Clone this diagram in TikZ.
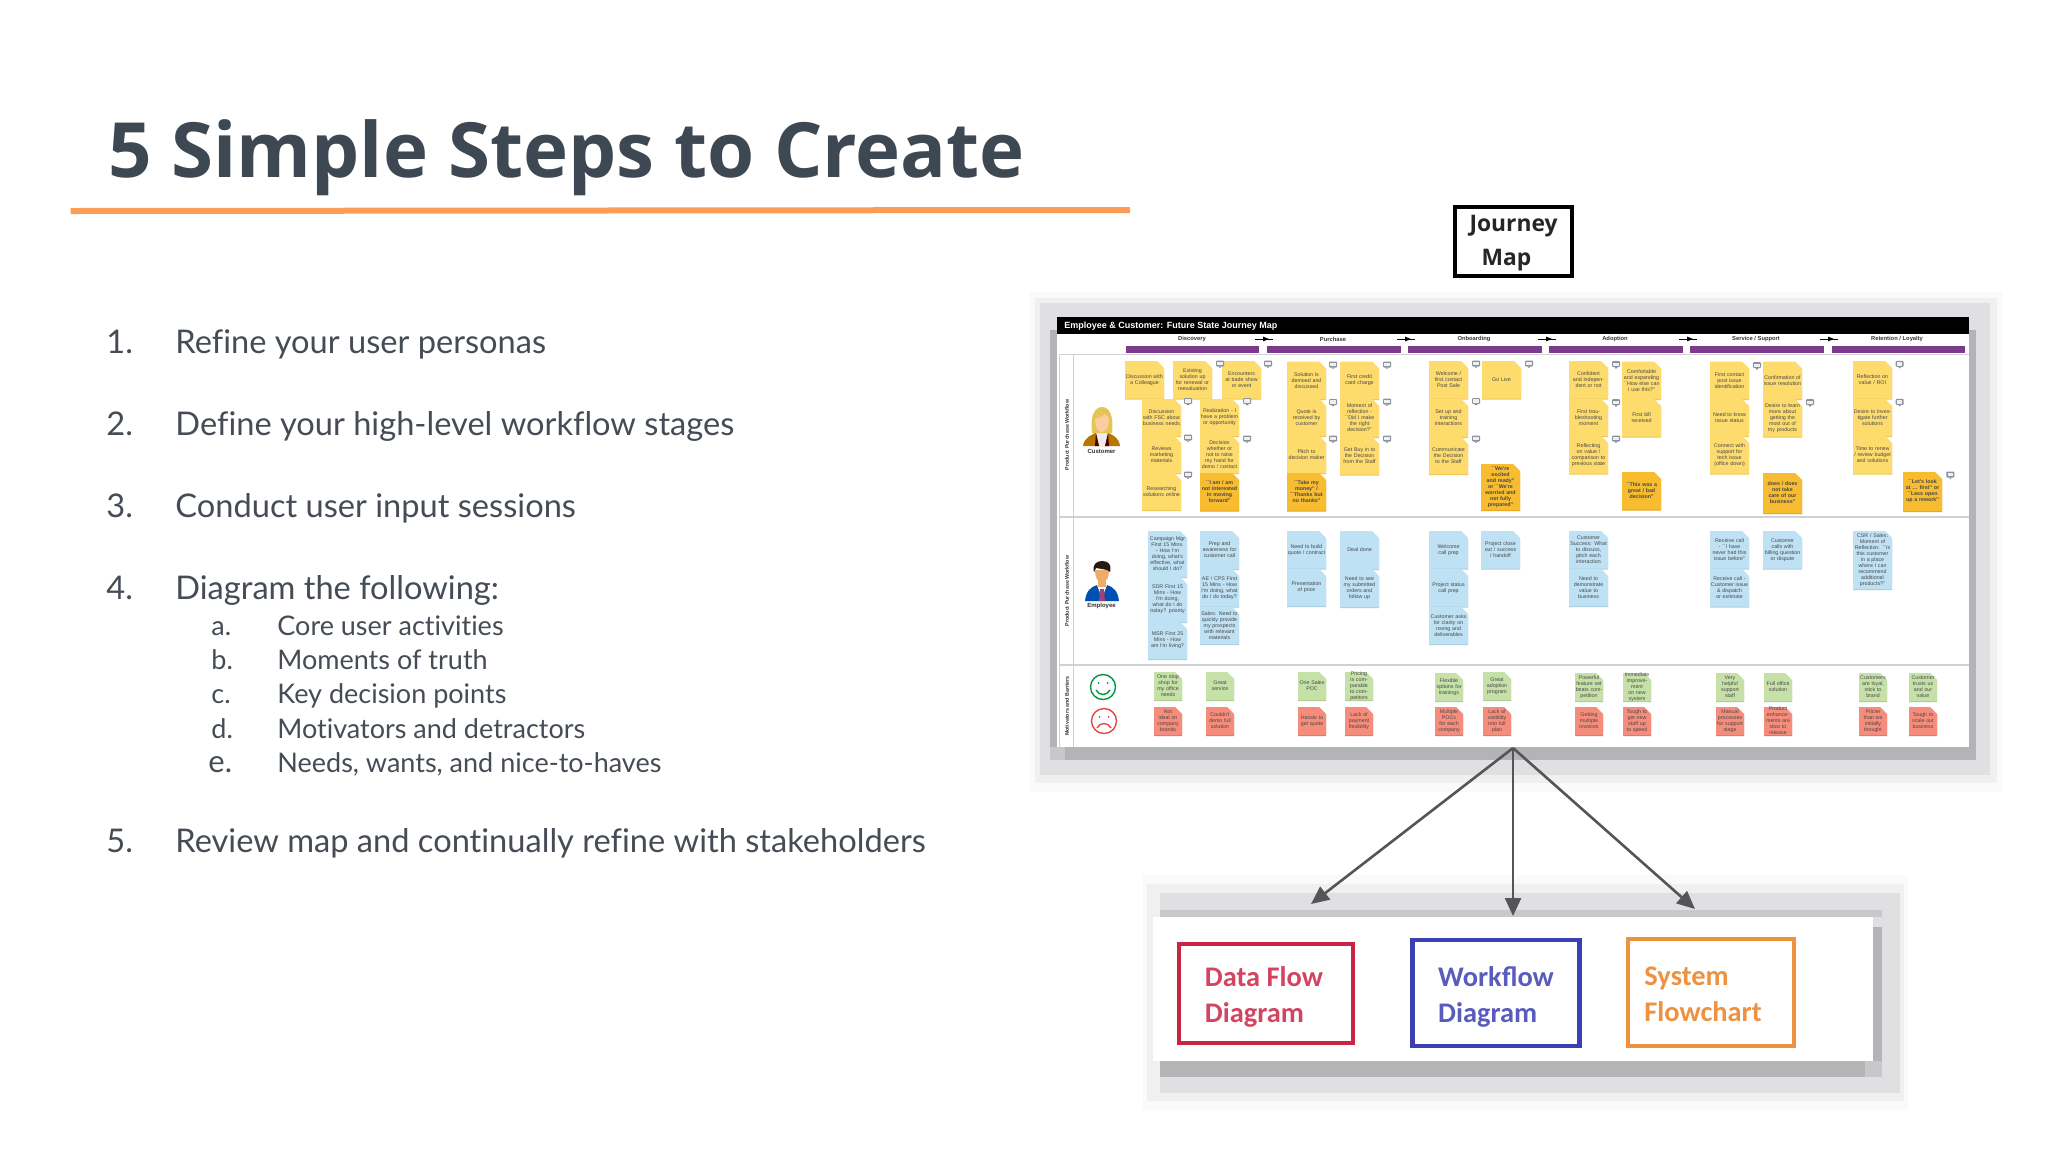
\documentclass[tikz,border=0pt]{standalone}
\usepackage{fontspec}
\setmainfont{Lato}[Ligatures=NoCommon]
\newfontfamily\notefont{Liberation Sans}
\newfontfamily\carl{Carlito}
\newfontfamily\jfont{Open Sans}
\usetikzlibrary{arrows.meta}
\definecolor{ink}{HTML}{3E4853}
\definecolor{body}{HTML}{454C55}
\definecolor{rule}{HTML}{FD9C57}
\definecolor{yel}{HTML}{FDDB6D}
\definecolor{yelS}{HTML}{EFC658}
\definecolor{dyl}{HTML}{F8BC30}
\definecolor{dylS}{HTML}{E5A41F}
\definecolor{blu}{HTML}{BFE1F4}
\definecolor{bluS}{HTML}{A9CDE2}
\definecolor{grn}{HTML}{C5E1A8}
\definecolor{grnS}{HTML}{AECB92}
\definecolor{rd}{HTML}{F68D7C}
\definecolor{rdS}{HTML}{DD7868}
\definecolor{purp}{HTML}{7B3A8C}
\definecolor{sh1}{HTML}{B4B4B7}
\definecolor{sh1b}{HTML}{C8C8CB}
\definecolor{sh2}{HTML}{E0E0E2}
\definecolor{sh3}{HTML}{FAFAFB}
\definecolor{sh4}{HTML}{F0F0F1}
\definecolor{cmt}{HTML}{8B929C}
\definecolor{arrowc}{HTML}{555558}
\definecolor{redb}{HTML}{CB2344}
\definecolor{blub}{HTML}{3B3FB2}
\definecolor{orab}{HTML}{EE9140}
\tikzset{
 listtxt/.style={anchor=base west,inner sep=0,text=body,font=\fontsize{16.3}{18}\selectfont},
 subtxt/.style={anchor=base west,inner sep=0,text=body,font=\fontsize{13.5}{15}\selectfont},
 stage/.style={inner sep=0,font=\notefont\bfseries\fontsize{2.9}{4}\selectfont,text=black!80},
 side/.style={inner sep=0,rotate=90,font=\notefont\bfseries\fontsize{2.65}{4}\selectfont,text=black!80},
 who/.style={inner sep=0,font=\notefont\bfseries\fontsize{3}{4}\selectfont,text=black!80},
 bigbox/.style={draw,line width=2.4pt,inner sep=0,font=\carl\bfseries\fontsize{14.2}{18}\selectfont},
 flow/.style={draw=arrowc,line width=1.3pt,-{Triangle[length=9pt,width=8pt]},fill=arrowc},
 stagearrow/.style={draw=black,line width=.4pt},
}
\newcount\ntc
\newcommand\nt[7]{% colour, x, y, w, h, bold?, text
 \global\advance\ntc by 1
 \fill[#1S] (#2,#3+1) -- (#2+#4-7,#3+1) -- (#2+#4,#3+8) -- (#2+#4,#3+#5+1) -- (#2,#3+#5+1) -- cycle;
 \fill[#1] (#2,#3) -- (#2+#4-7,#3) -- (#2+#4,#3+7) -- (#2+#4,#3+#5) -- (#2,#3+#5) -- cycle;
 \node[inner sep=0,text width=#4*0.48pt,align=center,text=black!72,
   font=\notefont#6\fontsize{2.65}{3}\selectfont] (note\the\ntc) at (#2+#4/2,#3+#5/2) {\hyphenpenalty=10000\relax\exhyphenpenalty=10000\relax #7};
}
\newcommand\cm[2]{%
 \fill[cmt,rounded corners=.5pt] (#1-4,#2-3.5) rectangle (#1+4,#2+2.5);
 \fill[white!85!cmt] (#1-2.6,#2-2.2) rectangle (#1+2.6,#2+1.2);
 \fill[cmt] (#1-1.5,#2+2.5) -- (#1+1.5,#2+2.5) -- (#1,#2+4.2) -- cycle;
}
\newcommand\yy[4]{\nt{yel}{#1}{#2}{39}{#3}{}{#4}}
\newcommand\dd[4]{\nt{dyl}{#1}{#2}{39}{#3}{\bfseries}{#4}}
\newcommand\bb[4]{\nt{blu}{#1}{#2}{39}{#3}{}{#4}}
\newcommand\twol[3]{\hspace*{#3}\raisebox{-2pt}[\height][\depth]{\begin{tabular}{@{}l@{}}#1\\#2\end{tabular}}}
\begin{document}
\begin{tikzpicture}[x=0.5pt,y=-0.5pt]
\useasboundingbox (0,0) rectangle (2048,1152);
\fill[white] (0,0) rectangle (2048,1152);

% ---------- title
\node[anchor=base west,inner sep=0,text=ink,font=\jfont\bfseries\fontsize{38.1}{44}\selectfont] (title) at (108,177) {5 Simple Steps to Create};
\fill[rule] (70.5,208) -- (1130,207) -- (1130,213) -- (70.5,214) -- cycle;

% ---------- list
\node[listtxt] (n1) at (106,353) {1.};
\node[listtxt] (t1) at (175,353) {Refine your user personas};
\node[listtxt] (n2) at (106,435) {2.};
\node[listtxt] (t2) at (175,435) {Define your high-level workflow stages};
\node[listtxt] (n3) at (106,517) {3.};
\node[listtxt] (t3) at (175,517) {Conduct user input sessions};
\node[listtxt] (n4) at (106,599) {4.};
\node[listtxt] (t4) at (175,599) {Diagram the following:};
\node[subtxt] (la) at (211,635) {a.};
\node[subtxt] (ta) at (277,635) {Core user activities};
\node[subtxt] (lb) at (211,669) {b.};
\node[subtxt] (tb) at (277,669) {Moments of truth};
\node[subtxt] (lc) at (211,703) {c.};
\node[subtxt] (tc) at (277,703) {Key decision points};
\node[subtxt] (ld) at (211,738) {d.};
\node[subtxt] (td) at (277,738) {Motivators and detractors};
\node[subtxt,font=\fontsize{15.5}{15}\selectfont] (le) at (208,772) {e.};
\node[subtxt] (te) at (277,772) {Needs, wants, and nice-to-haves};
\node[listtxt] (n5) at (106,852) {5.};
\node[listtxt] (t5) at (175,852) {Review map and continually refine with stakeholders};

% ---------- journey map label
\node[draw=black,line width=2pt,minimum width=58.5pt,minimum height=34.5pt,inner sep=0,
  font=\jfont\bfseries\fontsize{11.4}{17}\selectfont,text=black!85] (journey) at (1513.5,241.5)
  {\raisebox{-1.2pt}{\begin{tabular}{@{}c@{}}Journey\\Map\hspace*{7pt}\end{tabular}}};

% ---------- journey image shadows
\fill[sh3] (1030,292) rectangle (2002,792);
\fill[sh4] (1035,298) rectangle (1997,783);
\fill[sh2] (1040,303) rectangle (1990,775);
\fill[sh1] (1065,747) rectangle (1976,760);
\fill[sh1] (1050,330) rectangle (1057,747);
\fill[sh1] (1969,330) rectangle (1976,747);
\fill[sh1b] (1050,747) rectangle (1065,760);
\fill[white] (1057,317) rectangle (1969,747);
\fill[black] (1057,317) rectangle (1969,334);
\node[anchor=west,inner sep=0,text=white,font=\notefont\bfseries\fontsize{4.5}{5}\selectfont] (jtitle) at (1064,326) {Employee \& Customer: Future State Journey Map};

% grid
\draw[black!18,line width=.5pt] (1059,354) -- (1969,354);
\draw[black!18,line width=.6pt] (1059,517) -- (1969,517);
\draw[black!18,line width=.6pt] (1059,665) -- (1969,665);
\draw[black!18,line width=.5pt] (1059,354) -- (1059,747);
\draw[black!18,line width=.5pt] (1073,354) -- (1073,747);

% stages
\node[stage] (s1) at (1192,339) {Discovery};
\node[stage] (s2) at (1333,339) {Purchase};
\node[stage] (s3) at (1474,339) {Onboarding};
\node[stage] (s4) at (1615,339) {Adoption};
\node[stage] (s5) at (1756,339) {Service / Support};
\node[stage] (s6) at (1897,339) {Retention / Loyalty};
\foreach \a/\b in {1126/1259,1267/1401,1408/1542,1549/1683,1690/1824,1832/1965}
  \fill[purp] (\a,345.7) rectangle (\b,352.7);
\foreach \a in {1255,1397,1538,1679,1820}{
  \draw[stagearrow] (\a,339) -- (\a+18,339);
  \fill[black] (\a+8,336.6) -- (\a+14,339) -- (\a+8,341.4) -- cycle;
}
\node[side] (r1) at (1067,435) {Product Purchase Workflow};
\node[side] (r2) at (1067,591) {Product Purchase Workflow};
\node[side] (r3) at (1067,706) {Motivators and Barriers};

% customer
\fill[black!35!orange!80!yellow] (1083,446) .. controls (1084,437) and (1092,435) .. (1097,432) -- (1107,432) .. controls (1112,435) and (1119,437) .. (1120,446) -- cycle;
\fill[white!92!black] (1096,433) -- (1108,433) -- (1105,446) -- (1099,446) -- cycle;
\fill[black!70!red] (1096,433) -- (1099,446) -- (1095,446) -- cycle;
\fill[black!70!red] (1108,433) -- (1105,446) -- (1109,446) -- cycle;
\fill[yellow!45!brown!85!white] (1092,433) .. controls (1090,415) and (1095,407) .. (1102,407) .. controls (1109,407) and (1114,415) .. (1112,433) -- cycle;
\fill[orange!35!white!92!brown] (1102,432) .. controls (1097,432) and (1095,426) .. (1095,419) .. controls (1099,418) and (1103,416) .. (1105,414) .. controls (1107,416) and (1109,417) .. (1109,419) .. controls (1109,426) and (1107,432) .. (1102,432) -- cycle;
\node[who] (cust) at (1101.5,451) {Customer};

% employee
\fill[blue!55!cyan!70!black] (1085,601) .. controls (1086,592) and (1090,587) .. (1097,585) -- (1107,585) .. controls (1114,587) and (1118,592) .. (1119,601) -- cycle;
\fill[white] (1097,585) -- (1107,585) -- (1104,593) -- (1100,593) -- cycle;
\fill[magenta!60!black] (1100,589) -- (1104,589) -- (1105,601) -- (1099,601) -- cycle;
\fill[orange!60!brown!65!white] (1098,578) rectangle (1106,587);
\fill[orange!60!brown!65!white] (1102,582) .. controls (1097,582) and (1095,577) .. (1095,570) -- (1109,570) .. controls (1109,577) and (1107,582) .. (1102,582) -- cycle;
\fill[black!80!brown] (1094,572) .. controls (1092,565) and (1096,561) .. (1102,561) .. controls (1108,561) and (1112,564) .. (1110,572) .. controls (1108,569) and (1100,569) .. (1096,568) -- cycle;
\node[who] (emp) at (1101.5,606) {Employee};

% smileys
\draw[green!45!black!75!cyan,line width=.7pt] (1103,687) circle (12.5);
\fill[green!45!black!75!cyan] (1098.5,683) circle (1) (1107.5,683) circle (1);
\draw[green!45!black!75!cyan,line width=.7pt] (1096,690) .. controls (1099,696) and (1107,696) .. (1110,690);
\draw[red!60!pink!90!black,line width=.7pt] (1104,721) circle (12.5);
\fill[red!60!pink!90!black] (1099.5,717) circle (1) (1108.5,717) circle (1);
\draw[red!60!pink!90!black,line width=.7pt] (1097,728) .. controls (1100,722) and (1108,722) .. (1111,728);

% yellow notes
\yy{1125}{361}{37.5}{Discussion with a Colleague}
\yy{1173}{361}{37.5}{Existing solution up for renewal or reevaluation}
\yy{1222}{361}{37.5}{Encounters at trade show or event}
\yy{1142}{399}{37}{Discussion with FSC about business needs}
\yy{1200}{399}{37}{Realization - I have a problem or opportunity}
\yy{1142}{436}{37}{Reviews marketing materials}
\yy{1200}{436}{37}{Decision whether or not to raise my hand for demo / contact}
\yy{1142}{473}{37}{Researching solutions online}
\dd{1200}{473}{37.5}{``I am / am not interested in moving forward''}
\yy{1287}{361.5}{37.5}{Solution is demoed and discussed}
\yy{1287}{399}{37}{Quote is received by customer}
\yy{1287}{436}{37}{Pitch to decision maker}
\dd{1287}{473}{37.5}{``Take my money'' / ``Thanks but no thanks''}
\yy{1340}{361.5}{37.5}{First credit card charge}
\yy{1340}{399}{38}{Moment of reflection - ``Did I make the right decision?''}
\yy{1340}{437}{37.5}{Get Buy in to the Decision from the Staff}
\yy{1429}{361}{37.5}{Welcome / first contact Post Sale}
\yy{1429}{399}{38}{Set up and training interactions}
\yy{1429}{437}{37}{Communicate the Decision to the Staff}
\yy{1482}{361}{37.5}{Go Live}
\dd{1481}{464}{46}{``We're excited and ready'' or ``We're worried and not fully prepared''}
\yy{1569}{361}{37.5}{Confident and independent or not}
\yy{1569}{399}{37}{First troubleshooting moment}
\yy{1569}{436}{37.5}{Reflecting on value / comparison to previous state}
\yy{1622}{361.5}{37.5}{Comfortable and expanding ``How else can I use this?''}
\yy{1622}{399}{37.5}{First bill received}
\dd{1622}{472}{37.5}{``This was a great / bad decision''}
\yy{1710}{361.5}{37.5}{First contact post issue identification}
\yy{1710}{399}{37}{Need to know issue status}
\yy{1710}{436}{37.5}{Connect with support for tech issue (office down)}
\yy{1763}{361.5}{37.5}{Confirmation of issue resolution}
\yy{1763}{399}{37.5}{Desire to learn more about getting the most out of my products}
\dd{1763}{473}{40}{does / does not take care of our business''}
\yy{1853}{361}{37.5}{Reflection on value / ROI}
\yy{1853}{399}{37}{Desire to investigate further solutions}
\yy{1853}{436}{37.5}{Time to renew / review budget and solutions}
\dd{1903}{472}{39}{``Let's look at \ldots{} first'' or ``Less open up a rework''}

% comment icons
\foreach \a/\b in {1220/364,1268/364,1188/401.5,1247/401.5,1188/438,1247/439,1188/475,
  1333/365,1387/365,1333/402.5,1387/402,1333/439,1387/439,
  1476/364,1529/364,1476/401.5,1476/439,
  1616/364.7,1616/402.7,1616/439,1757/365.7,1810/402.7,1899.7/364.3,1899.7/402.3,1950.3/475}
  {\cm{\a}{\b}}

% blue notes
\bb{1148}{531}{46}{Campaign Mgr First 15 Mins. - How I'm doing, what's effective, what should I do?}
\bb{1148}{577}{45}{SDR First 15 Mins - How I'm doing, what do I do today? priority}
\bb{1148}{622}{37}{MSR First 25 Mins - How am I'm living?}
\bb{1200}{531}{38}{Prep and awareness for customer call}
\bb{1200}{569}{37.5}{AE / CPS First 15 Mins - How I'm doing, what do I do today?}
\bb{1200}{607}{37}{Sales: Need to quickly provide my prospects with relevant materials}
\bb{1287}{531}{37.5}{Need to build quote / contract}
\bb{1287}{569}{37}{Presentation of price}
\bb{1340}{531}{38}{Deal done}
\bb{1340}{569}{38}{Need to see my submitted orders and follow up}
\bb{1429}{531}{37.5}{Welcome call prep}
\bb{1429}{569}{37.5}{Project status call prep}
\bb{1429}{607}{37}{Customer asks for clarity on roving and deliverables}
\bb{1481}{531}{37.5}{Project close out / success / handoff}
\bb{1569}{531}{37.5}{Customer Success: What to discuss, pitch each interaction}
\bb{1569}{569}{37}{Need to demonstrate value to business}
\bb{1710}{531}{37.5}{Receive call - ``I have never had this issue before''}
\bb{1710}{569}{37.5}{Receive call - Customer issue \& dispatch or estimate}
\bb{1763}{531}{37.5}{Customer calls with billing question or dispute}
\bb{1853}{531}{58}{CSR / Sales: Moment of Reflection: ``Is this customer in a place where I can recommend additional products?''}

% motivators
\foreach \x/\y/\t in {
 1154/672/{One stop shop for my office needs},1206/672/{Great service},1298/672/{One Sales POC},
 1345/672/{Pricing is comparable to competitors},1435/673/{Flexible options for trainings},
 1483/672/{Great adoption program},1575/673/{Powerful feature set beats competition},
 1623/673/{Immediate improvement on new system},1716/673/{Very helpful support staff},
 1764/673/{Full office solution},1859/673/{Customers are loyal, stick to brand},
 1909/673/{Customer trusts us and our value}}{
 \nt{grn}{\x}{\y}{28}{28}{}{\t}
}
\foreach \x/\t in {
 1154/{Not ideal on company brands},1206/{Couldn't demo full solution},1298/{Hassle to get quote},
 1345/{Lack of payment flexibility},1435/{Multiple POCs for each company},
 1483/{Lack of visibility into full plan},1575/{Getting multiple invoices},
 1623/{Tough to get new staff up to speed},1716/{Manual processes for support stage},
 1764/{Product enhancements are slow to release},1859/{Pricier than we initially thought},
 1909/{Tough to scale our business}}{
 \nt{rd}{\x}{707}{28}{28}{}{\t}
}

% ---------- lower panel
\fill[sh3] (1143,875) rectangle (1908,1110);
\fill[sh4] (1147,884) rectangle (1904,1101);
\fill[sh2] (1160,893) rectangle (1900,1093);
\fill[sh1b] (1160,910) rectangle (1882,917);
\fill[sh1] (1873,927) rectangle (1882,1061);
\fill[sh1] (1160,1061) rectangle (1865,1077);
\fill[sh1b] (1865,1061) rectangle (1882,1077);
\fill[white] (1153,917) rectangle (1873,1061);
\node[bigbox,draw=redb,text=redb!85!white,minimum width=87pt,minimum height=49.5pt] (dfd) at (1266,993.5) {\twol{Data Flow}{Diagram}{-2pt}};
\node[bigbox,draw=blub,text=blub!85!white,minimum width=83.5pt,minimum height=53pt] (wfd) at (1496,993) {\twol{Workflow}{Diagram}{0pt}};
\node[bigbox,draw=orab,text=orab,minimum width=83pt,minimum height=53.5pt] (sfc) at (1711,992.5) {\twol{System}{Flowchart}{-8pt}};

% ---------- arrows
\coordinate (apex) at (1513,748);
\coordinate (tipL) at (1311,904);
\coordinate (tipM) at (1513,916);
\coordinate (tipR) at (1695,909);
\draw[flow] (apex) -- (tipL);
\draw[flow] (apex) -- (tipM);
\draw[flow] (apex) -- (tipR);
\end{tikzpicture}
\end{document}
